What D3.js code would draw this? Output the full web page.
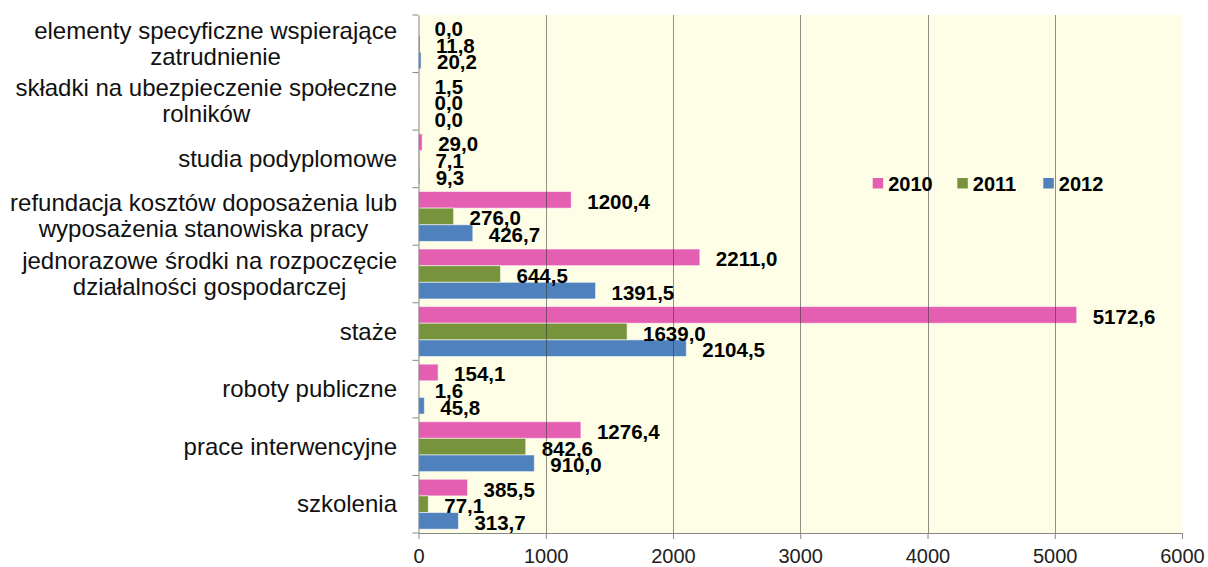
<!DOCTYPE html>
<html><head><meta charset="utf-8">
<script src="https://cdn.jsdelivr.net/npm/d3@7"></script>
<style>
html,body{margin:0;padding:0;background:#fff;}
svg{display:block;}
text{font-family:"Liberation Sans",Arial,sans-serif;}
</style></head>
<body>
<svg id="chart" width="1208" height="567"></svg>
<script>
const categories = [
  "elementy specyficzne wspierające zatrudnienie",
  "składki na ubezpieczenie społeczne rolników",
  "studia podyplomowe",
  "refundacja kosztów doposażenia lub wyposażenia stanowiska pracy",
  "jednorazowe środki na rozpoczęcie działalności gospodarczej",
  "staże",
  "roboty publiczne",
  "prace interwencyjne",
  "szkolenia"
];
const categoryLines = [
  ["elementy specyficzne wspierające", "zatrudnienie"],
  ["składki na ubezpieczenie społeczne", "rolników"],
  ["studia podyplomowe"],
  ["refundacja kosztów doposażenia lub", "wyposażenia stanowiska pracy"],
  ["jednorazowe środki na rozpoczęcie", "działalności gospodarczej"],
  ["staże"],
  ["roboty publiczne"],
  ["prace interwencyjne"],
  ["szkolenia"]
];
const years = ["2010", "2011", "2012"];
const values2010 = [0.0, 1.5, 29.0, 1200.4, 2211.0, 5172.6, 154.1, 1276.4, 385.5];
const values2011 = [11.8, 0.0, 7.1, 276.0, 644.5, 1639.0, 1.6, 842.6, 77.1];
const values2012 = [20.2, 0.0, 9.3, 426.7, 1391.5, 2104.5, 45.8, 910.0, 313.7];
const xTicks = [0, 1000, 2000, 3000, 4000, 5000, 6000];
const colors = ["#E45FB1", "#77933C", "#4F81BD"];

(function () {
const series = [values2010, values2011, values2012];
const svg = d3.select("#chart");
const pLeft = 418.5, pRight = 1182, pTop = 15, pBottom = 533;

const x = d3.scaleLinear().domain([0, 6000]).range([pLeft, pRight]);
const y = d3.scaleBand().domain(categories).range([pTop, pBottom]).paddingInner(0).paddingOuter(0);
const ySub = d3.scaleBand().domain(years).range([0, y.bandwidth()]).paddingInner(0).paddingOuter(0.23);

// plot background
svg.append("rect").attr("x", pLeft).attr("y", pTop)
  .attr("width", pRight - pLeft).attr("height", pBottom - pTop).attr("fill", "#FEFEE6");

// bars
const rows = [];
categories.forEach((c, i) => years.forEach((yr, j) => rows.push({c, yr, j, v: series[j][i]})));
svg.append("g").selectAll("rect").data(rows).join("rect")
  .attr("x", x(0))
  .attr("y", d => y(d.c) + ySub(d.yr))
  .attr("width", d => Math.max(0, x(d.v) - x(0)))
  .attr("height", ySub.bandwidth())
  .attr("fill", d => colors[d.j])
  .attr("stroke", "rgba(255,255,255,0.55)")
  .attr("stroke-width", 1);

// gridlines (over bars)
svg.append("g").selectAll("line").data(xTicks.filter(t => t > 0 && t < 6000)).join("line")
  .attr("x1", d => Math.round(x(d)) + 0.5).attr("x2", d => Math.round(x(d)) + 0.5)
  .attr("y1", pTop).attr("y2", pBottom)
  .attr("stroke", "#333").attr("stroke-opacity", 0.55).attr("stroke-width", 1);

// x axis
const xAxis = svg.append("g").attr("transform", `translate(0,${pBottom})`)
  .call(d3.axisBottom(x).tickValues(xTicks).tickSize(6).tickSizeOuter(0).tickFormat(d3.format("d")));
xAxis.select(".domain").attr("stroke", "#868686");
xAxis.selectAll(".tick line").attr("stroke", "#868686");
xAxis.selectAll(".tick text").attr("font-size", 20).attr("fill", "#222")
  .attr("font-family", "'Liberation Sans',Arial,sans-serif").attr("dy", null).attr("y", 30);

// y axis (line + ticks at band boundaries)
const yAxis = svg.append("g").attr("transform", `translate(${pLeft},0)`)
  .call(d3.axisLeft(y).tickSize(0).tickFormat(""));
yAxis.select(".domain").attr("stroke", "#868686");
const bounds = categories.map(c => y(c)).concat([pBottom]);
svg.append("g").selectAll("line").data(bounds).join("line")
  .attr("x1", pLeft - 6).attr("x2", pLeft).attr("y1", d => d).attr("y2", d => d)
  .attr("stroke", "#868686");

// category labels
const catG = svg.append("g");
categories.forEach((c, i) => {
  const lines = categoryLines[i];
  const cy = y(c) + y.bandwidth() / 2;
  const lh = 26;
  const g = catG.append("g");
  const texts = lines.map((ln, k) => g.append("text").text(ln)
    .attr("font-size", 24).attr("fill", "#111")
    .attr("text-anchor", "middle")
    .attr("y", cy + (k - (lines.length - 1) / 2) * lh + 8));
  const w = Math.max(...texts.map(t => t.node().getComputedTextLength()));
  texts.forEach(t => t.attr("x", 397 - w / 2));
});

// value labels
const fmt = v => d3.format(".1f")(v).replace(".", ",");
svg.append("g").selectAll("text").data(rows).join("text")
  .attr("x", d => x(d.v) + 16)
  .attr("y", d => y(d.c) + ySub(d.yr) + ySub.bandwidth() / 2 + 9)
  .attr("font-size", 20.5).attr("font-weight", "bold").attr("fill", "#000")
  .text(d => fmt(d.v));

// legend
const legX = [872.7, 957.3, 1043.3];
const leg = svg.append("g");
years.forEach((yr, j) => {
  leg.append("rect").attr("x", legX[j]).attr("y", 178).attr("width", 10.5).attr("height", 10.5)
    .attr("fill", colors[j]);
  leg.append("text").attr("x", legX[j] + 15.5).attr("y", 190.5)
    .attr("font-size", 20).attr("font-weight", "bold").attr("fill", "#000").text(yr);
});
})();
</script>
</body></html>
